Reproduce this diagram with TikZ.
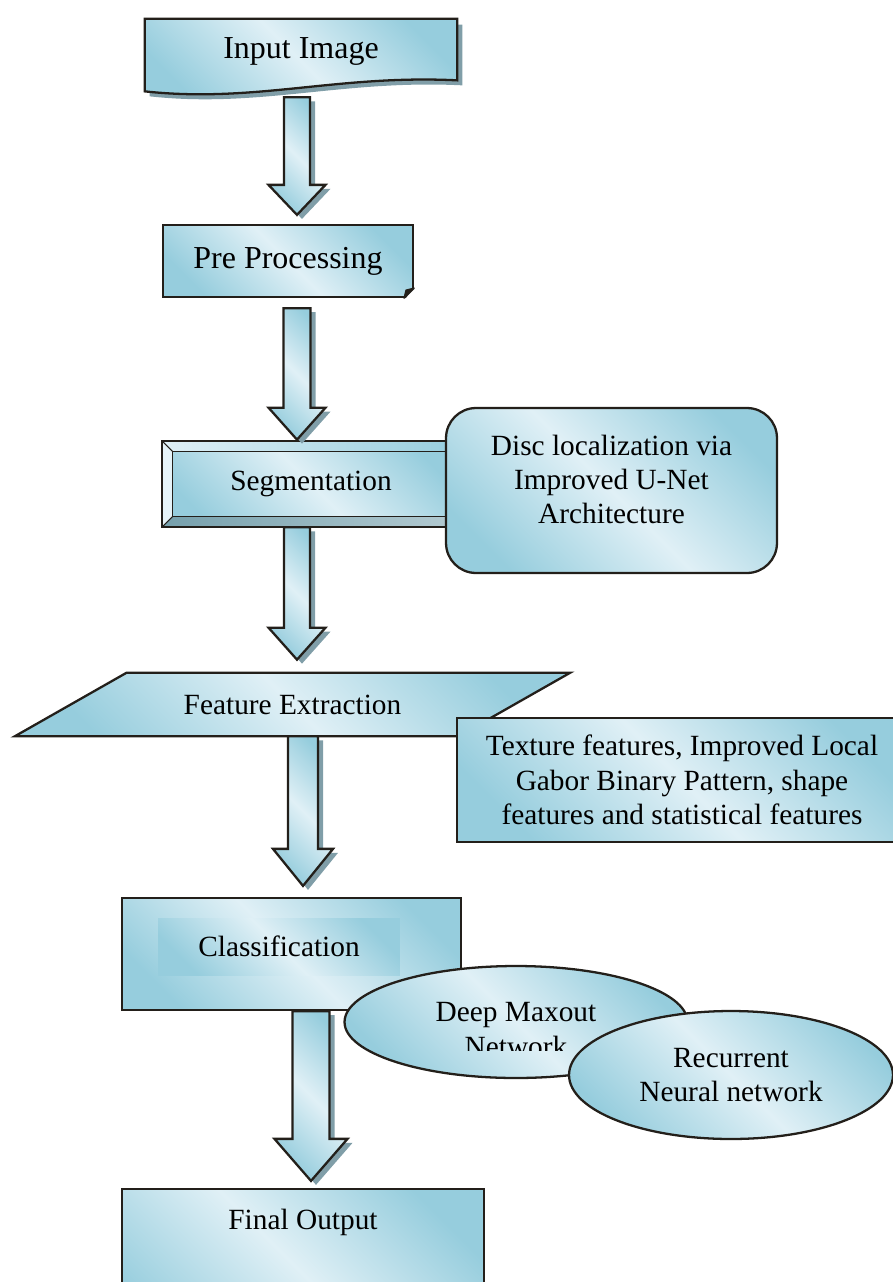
\documentclass[tikz,border=0pt]{standalone}
\usepackage{fontspec}
\setmainfont{Liberation Serif}
\usepackage{tikz}
\usetikzlibrary{calc,positioning,shapes.geometric,backgrounds}

\definecolor{glassdk}{RGB}{150,205,221}
\definecolor{glasslt}{RGB}{224,240,246}
\definecolor{edge}{RGB}{35,31,26}
\definecolor{shadowblue}{RGB}{128,158,168}
\definecolor{bevelgray}{RGB}{118,160,172}
\pgfdeclarehorizontalshading{glassy}{100bp}{color(0bp)=(glassdk); color(24bp)=(glassdk); color(50bp)=(glasslt); color(76bp)=(glassdk); color(100bp)=(glassdk)}

% block arrow: top, tip, half shaft, half head, head length, dx, dy, style
\newcommand\arrowpoly[8]{%
  \path[#8] ($(#2 |- #1)+(-#3+#6,#7)$) -- ($(#2)+(-#3+#6,-#5+#7)$) -- ($(#2)+(-#4+#6,-#5+#7)$)
    -- ($(#2)+(#6,#7)$) -- ($(#2)+(#4+#6,-#5+#7)$) -- ($(#2)+(#3+#6,-#5+#7)$)
    -- ($(#2 |- #1)+(#3+#6,#7)$) -- cycle;}
\newcommand\bigarrow[5]{%
  \arrowpoly{#1}{#2}{#3}{#4}{#5}{5}{4}{arrow shadow}
  \arrowpoly{#1}{#2}{#3}{#4}{#5}{0}{0}{arrow body}}

\begin{document}
\begin{tikzpicture}[
  x=0.02cm,y=-0.02cm,
  every node/.style={font=\fontsize{16.7}{19.5}\selectfont,align=center,inner sep=0pt},
  big text/.style={font=\fontsize{18.2}{21}\selectfont},
  box/.style={draw=edge,line width=1.3pt,shade,shading=glassy,shading angle=45},
  arrow body/.style={draw=edge,line width=1.3pt,shade,shading=glassy,shading angle=45},
  arrow shadow/.style={fill=shadowblue}
  ]
  \useasboundingbox (0,0) rectangle (893,1282);

  % input document with wavy bottom
  \node [big text,minimum width=6.24cm,minimum height=1.24cm] (in) at (301,51) {Input Image};
  \begin{scope}[on background layer]
    \fill[shadowblue] ($(in.north west)+(5,5)$) -- ($(in.north east)+(5,5)$) -- ($(in.south east)+(5,3)$)
      .. controls ($(in.south east)+(-115,-3)$) and ($(in.south west)+(115,26)$) .. ($(in.south west)+(5,14)$) -- cycle;
    \path[box] ($(in.north west)+(0,-1)$) -- ($(in.north east)+(0,-1)$) -- ($(in.south east)+(0,-2)$)
      .. controls ($(in.south east)+(-120,-8)$) and ($(in.south west)+(110,21)$) .. ($(in.south west)+(0,9)$) -- cycle;
  \end{scope}

  \node [box,big text,minimum width=5cm,minimum height=1.44cm] (pre) at (288,261) {Pre Processing};
  \fill[white] ($(pre.south east)+(-10,2)$) -- ++(12,0) -- ++(0,-12) -- ++(-2,0) -- cycle;
  \filldraw[edge,line width=0.8pt,line join=round] ($(pre.south east)+(-10,0)$) -- ($(pre.south east)+(0,-10)$) -- ($(pre.south east)+(-8,-8)$) -- cycle;

  % bevelled segmentation box
  \node [shade,shading=glassy,shading angle=45,minimum width=5.96cm,minimum height=1.72cm] (seg) at (311,484) {Segmentation};
  \shade[left color=glasslt,right color=glassdk] (seg.north west) -- (seg.north east) -- ($(seg.north east)+(-11,11)$) -- ($(seg.north west)+(11,11)$) -- cycle;
  \fill[glasslt!80!white] (seg.north west) -- ($(seg.north west)+(11,11)$) -- ($(seg.south west)+(11,-11)$) -- (seg.south west) -- cycle;
  \shade[left color=bevelgray,right color=bevelgray!55!white] (seg.south west) -- ($(seg.south west)+(11,-11)$) -- ($(seg.south east)+(-11,-11)$) -- (seg.south east) -- cycle;
  \draw[edge,line width=0.8pt] ($(seg.north west)+(11,11)$) rectangle ($(seg.south east)+(-11,-11)$);
  \draw[edge,line width=0.6pt] (seg.north west) -- ++(11,11) (seg.south west) -- ++(11,-11);
  \draw[edge,line width=1.3pt] (seg.north west) rectangle (seg.south east);

  \node [box,rounded corners=0.6cm,minimum width=6.62cm,minimum height=3.3cm,text depth=0.44cm] (disc) at (611.5,490.5)
    {Disc localization via\\Improved U-Net\\Architecture};

  % slanted input/output box
  \node [minimum width=8.86cm,minimum height=1.26cm] (feat) at (292.5,704.5) {Feature Extraction};
  \begin{scope}[on background layer]
    \path[box] ($(feat.north west)+(56,0)$) -- ($(feat.north east)+(56,0)$) -- ($(feat.south east)+(-56,0)$) -- ($(feat.south west)+(-56,0)$) -- cycle;
  \end{scope}
  \node [box,minimum width=9cm,minimum height=2.48cm] (tex) at (682,780)
    {Texture features, Improved Local\\Gabor Binary Pattern, shape\\features and statistical features};

  \node [box,minimum width=6.78cm,minimum height=2.24cm] (cls) at (291.5,954) {};
  \node [shade,shading=glassy,shading angle=225,minimum width=4.84cm,minimum height=1.14cm] (clsin) at (279,946.5) {Classification};

  \node [box,ellipse,minimum width=6.86cm,minimum height=2.24cm] (dmn) at (516,1022) {};
  \begin{scope}
    \clip (400,985) rectangle (640,1050);
    \node (dmntext) at (516,1029.5) {Deep Maxout\\Network};
  \end{scope}
  \node [box,ellipse,minimum width=6.48cm,minimum height=2.56cm] (rnn) at (731,1075) {Recurrent\\Neural network};

  \node [box,minimum width=7.24cm,minimum height=3.4cm,text depth=2.2cm] (out) at (303,1274) {Final Output};

  % arrows between the steps
  \coordinate (a1top) at ($(in.south)+(-4,15)$);
  \coordinate (a1tip) at ($(pre.north)+(9,-9)$);
  \coordinate (a2top) at ($(pre.south)+(9,10)$);
  \coordinate (a2tip) at ($(seg.north)+(-14,-1)$);
  \coordinate (a3top) at ($(seg.south)+(-14,0)$);
  \coordinate (a3tip) at ($(feat.north)+(4.5,-13)$);
  \coordinate (a4top) at ($(feat.south)+(10.5,0)$);
  \coordinate (a4tip) at ($(cls.north)+(11.5,-11)$);
  \coordinate (a5top) at ($(cls.south)+(19.5,0)$);
  \coordinate (a5tip) at ($(out.north)+(8,-7)$);
  \bigarrow{a1top}{a1tip}{13}{28.5}{30}
  \bigarrow{a2top}{a2tip}{13.5}{28.5}{32}
  \bigarrow{a3top}{a3tip}{13}{28.5}{32}
  \bigarrow{a4top}{a4tip}{15}{30}{37}
  \bigarrow{a5top}{a5tip}{18.5}{36.5}{42}
\end{tikzpicture}
\end{document}
